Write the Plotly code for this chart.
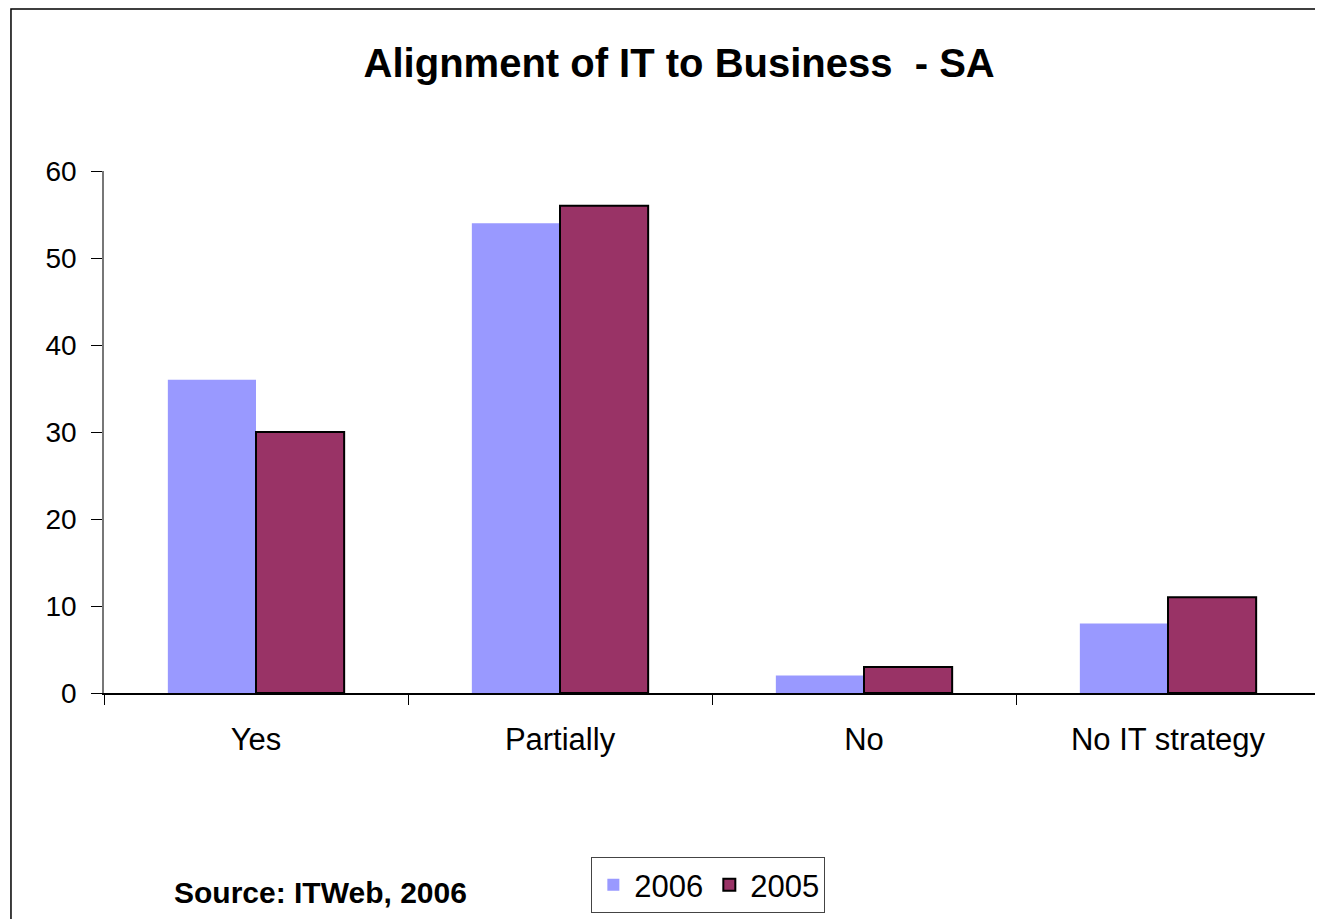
import plotly.graph_objects as go

categories = ["Yes", "Partially", "No", "No IT strategy"]
series_names = ["2006", "2005"]
values_2006 = [36, 54, 2, 8]
values_2005 = [30, 56, 3, 11]
y_ticks = [0, 10, 20, 30, 40, 50, 60]

FONT = "Liberation Sans, Arial, Helvetica, sans-serif"

fig = go.Figure()
fig.add_trace(go.Bar(
    name=series_names[0], x=categories, y=values_2006,
    marker=dict(color="#9999FF", line=dict(width=0)),
))
fig.add_trace(go.Bar(
    name=series_names[1], x=categories, y=values_2005,
    marker=dict(color="#993366", line=dict(color="black", width=2)),
))

fig.update_layout(
    width=1323, height=919,
    margin=dict(l=96, r=11, t=163, b=234),
    paper_bgcolor="white", plot_bgcolor="white",
    barmode="group", bargap=0.42, bargroupgap=0,
    font=dict(family=FONT, size=27, color="black"),
    title=dict(text="<b>Alignment of IT to Business  - SA</b>",
               x=0.473, xref="paper", xanchor="center",
               y=1 - 55 / 919, yref="container", yanchor="middle",
               font=dict(size=40, family=FONT, color="black")),
    showlegend=True,
    legend=dict(orientation="h", x=0.497, y=-0.368, xanchor="center", yanchor="middle",
                xref="paper", yref="paper",
                bordercolor="#444", borderwidth=1, bgcolor="white",
                font=dict(size=31, family=FONT), itemwidth=32,
                traceorder="normal"),
)

fig.update_xaxes(
    type="category", showgrid=False, showline=True, linecolor="black", linewidth=1.5,
    ticks="outside", tickson="boundaries", ticklen=10, tickcolor="black", tickwidth=1,
    ticklabelstandoff=18, tickfont=dict(size=31, family=FONT),
)
fig.update_yaxes(
    range=[0, 60], tickvals=y_ticks, showgrid=False, zeroline=False,
    showline=True, linecolor="#777", linewidth=1.5,
    ticks="outside", ticklen=11, tickcolor="black", tickwidth=1,
    tickfont=dict(size=28, family=FONT), ticklabelstandoff=9,
)

fig.add_annotation(text="<b>Source: ITWeb, 2006</b>", xref="paper", yref="paper",
                   x=0.178, y=-0.383, xanchor="center", yanchor="middle",
                   showarrow=False, font=dict(size=30, family=FONT, color="black"))

fig.add_shape(type="rect", xref="paper", yref="paper",
              x0=-0.0765, y0=-0.6, x1=1.5, y1=1.3103,
              line=dict(color="black", width=1.5), layer="below")

fig.write_html("out.html")
